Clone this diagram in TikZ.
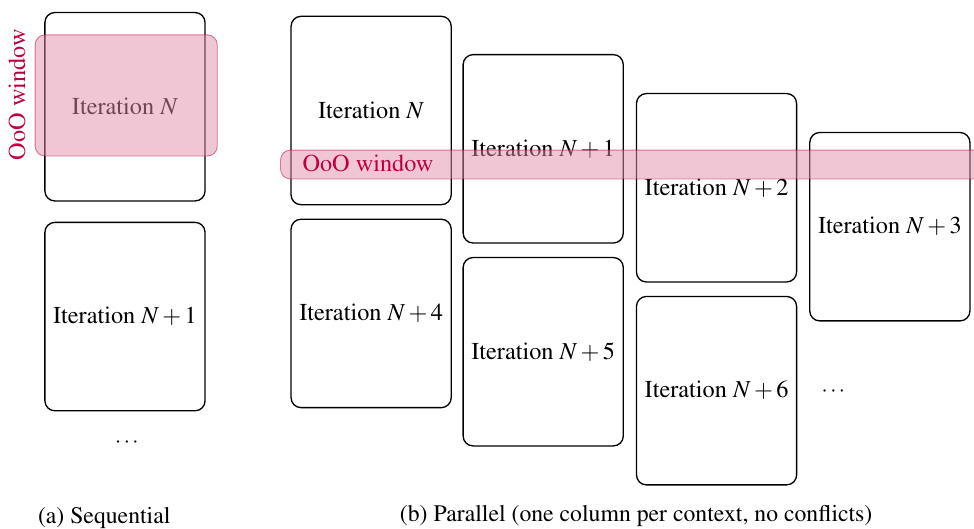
\documentclass[tikz,border=0pt]{standalone}
\usepackage[T1]{fontenc}
\usepackage{mathptmx}
\usetikzlibrary{positioning}

\tikzset{
  iter/.style={draw, semithick, rounded corners=4.5pt, minimum width=2.55cm, minimum height=3cm, font=\fontsize{11}{13}\selectfont},
  ooo/.style={draw=purple, fill=purple!45, opacity=0.5, rounded corners=4.5pt, inner sep=0pt},
  ooolabel/.style={text=purple, font=\fontsize{11}{13}\selectfont},
  caption/.style={font=\fontsize{10.75}{12}\selectfont},
}

\begin{document}
\begin{tikzpicture}
  \useasboundingbox (0,0) rectangle (15.51,-8.41);

  % (a) one context, iterations one after another
  \node[iter] (s0) at (1.99,-1.70) {Iteration $N$};
  \node[iter, below=0.32cm of s0] (s1) {Iteration $N+1$};
  \node (sdots) at (2.02,-7.05) {$\cdots$};
  \node[ooo, minimum width=2.9cm, minimum height=1.93cm] (swin) at (2.01,-1.52) {};
  \node[ooolabel, rotate=90] (swinlabel) at (0.27,-1.51) {OoO window};

  % (b) one column per context, shifted down by one step each
  \node[iter] (p0) at (5.91,-1.76) {Iteration $N$};
  \node[iter] (p1) at (8.65,-2.37) {Iteration $N+1$};
  \node[iter] (p2) at (11.41,-2.99) {Iteration $N+2$};
  \node[iter] (p3) at (14.17,-3.61) {Iteration $N+3$};
  \node[iter, below=0.21cm of p0] (p4) {Iteration $N+4$};
  \node[iter, below=0.21cm of p1] (p5) {Iteration $N+5$};
  \node[iter, below=0.21cm of p2] (p6) {Iteration $N+6$};
  \node (pdots) at (13.27,-6.24) {$\cdots$};
  \node[ooo, anchor=west, minimum width=11.6cm, minimum height=0.46cm] (pwin) at (4.46,-2.62) {};
  \node[ooolabel] (pwinlabel) at (5.86,-2.60) {OoO window};

  % captions
  \node[caption] (capa) at (1.66,-8.25) {(a) Sequential};
  \node[caption] (capb) at (10.13,-8.22) {(b) Parallel (one column per context, no conflicts)};
\end{tikzpicture}
\end{document}
